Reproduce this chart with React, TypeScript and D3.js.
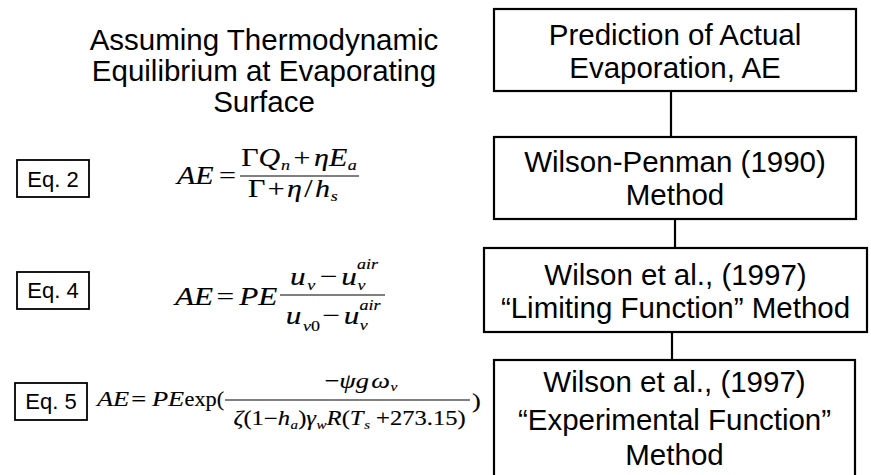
import * as d3 from "d3";

const titleLines = ["Assuming Thermodynamic", "Equilibrium at Evaporating", "Surface"];
const methodLines = [
  ["Prediction of Actual", "Evaporation, AE"],
  ["Wilson-Penman (1990)", "Method"],
  ["Wilson et al., (1997)", "\u201CLimiting Function\u201D Method"],
  ["Wilson et al., (1997)", "\u201CExperimental Function\u201D", "Method"],
];
const eqLabels = ["Eq. 2", "Eq. 4", "Eq. 5"];

// layout of the flow boxes (pixels)
const boxLayout = [
  { x0: 494, x1: 856, y0: 9, y1: 91, base: [45, 78] },
  { x0: 494, x1: 856, y0: 137, y1: 219, base: [172, 205] },
  { x0: 484, x1: 867, y0: 248, y1: 332, base: [285, 318] },
  { x0: 494, x1: 855, y0: 360, y1: 490, base: [392, 430, 465] },
];
const connectorX = [671, 675, 672];
const eqBoxLayout = [
  { x0: 17, x1: 89, y0: 160, y1: 197, base: 187 },
  { x0: 17, x1: 89, y0: 272, y1: 309, base: 298 },
  { x0: 15, x1: 87, y0: 383, y1: 420, base: 409 },
];

const SANS = "'Liberation Sans', Arial, sans-serif";
const SERIF = "'Liberation Serif', 'Times New Roman', serif";

const line = d3.line<[number, number]>();

// equations were pasted slightly stretched; x in local units, scaled by sx
function Stretched({ ox, sx, children }: { ox: number; sx: number; children: any }) {
  return (
    <g
      transform={`translate(${ox},0) scale(${sx},1)`}
      fontFamily={SERIF}
      fill="#000"
      stroke="#000"
      strokeWidth={0.15}
    >
      {children}
    </g>
  );
}

function Bar({ x0, x1, y }: { x0: number; x1: number; y: number }) {
  return <path d={line([[x0, y], [x1, y]]) ?? ""} stroke="#000" strokeWidth={1.1} />;
}

export default function App() {
  const width = 871;
  const height = 475;

  return (
    <svg
      width={width}
      height={height}
      style={{ position: "absolute", left: 0, top: 0, background: "#fff" }}
    >
      {/* left title */}
      <text fontFamily={SANS} fontSize={29.5} textAnchor="middle" fill="#000">
        {titleLines.map((t, i) => (
          <tspan key={t} x={264} y={50 + i * 31}>
            {t}
          </tspan>
        ))}
      </text>

      {/* flow boxes */}
      {methodLines.map((lines, i) => {
        const b = boxLayout[i];
        const cx = (b.x0 + b.x1) / 2;
        return (
          <g key={i}>
            <rect x={b.x0} y={b.y0} width={b.x1 - b.x0} height={b.y1 - b.y0} fill="none" stroke="#000" strokeWidth={2.2} />
            {lines.map((t, j) => (
              <text key={j} x={cx} y={b.base[j]} fontFamily={SANS} fontSize={29.5} textAnchor="middle" fill="#000">
                {t}
              </text>
            ))}
          </g>
        );
      })}
      {connectorX.map((x, i) => (
        <path
          key={i}
          d={line([
            [x, boxLayout[i].y1],
            [x, boxLayout[i + 1].y0],
          ]) ?? ""}
          stroke="#000"
          strokeWidth={2.2}
        />
      ))}

      {/* equation labels */}
      {eqLabels.map((t, i) => {
        const b = eqBoxLayout[i];
        return (
          <g key={t}>
            <rect x={b.x0} y={b.y0} width={b.x1 - b.x0} height={b.y1 - b.y0} fill="none" stroke="#000" strokeWidth={1.8} />
            <text x={(b.x0 + b.x1) / 2} y={b.base} fontFamily={SANS} fontSize={22} textAnchor="middle" fill="#000">
              {t}
            </text>
          </g>
        );
      })}

      {/* Eq. 2 */}
      <Stretched ox={177} sx={1.2}>
        <text x={0} y={184} fontSize={25} fontStyle="italic">AE</text>
        <text x={35} y={184} fontSize={25}>=</text>
        <Bar x0={52.5} x1={151.7} y={176} />
        <text x={101.7} y={166} fontSize={25} textAnchor="middle">
          <tspan>Γ</tspan>
          <tspan fontStyle="italic">Q</tspan>
          <tspan fontStyle="italic" fontSize={15} dx={0.5} dy={4}>n</tspan>
          <tspan dx={3} dy={-4}>+</tspan>
          <tspan dx={3} fontStyle="italic">ηE</tspan>
          <tspan fontStyle="italic" fontSize={15} dx={0.5} dy={4}>a</tspan>
        </text>
        <text x={96.5} y={197} fontSize={25} textAnchor="middle">
          <tspan>Γ</tspan>
          <tspan dx={2}>+</tspan>
          <tspan dx={2} fontStyle="italic">η</tspan>
          <tspan dx={2}>/</tspan>
          <tspan dx={2} fontStyle="italic">h</tspan>
          <tspan fontStyle="italic" fontSize={15} dx={0.5} dy={4}>s</tspan>
        </text>
      </Stretched>

      {/* Eq. 4 */}
      <Stretched ox={175} sx={1.2}>
        <text x={0} y={305} fontSize={26} fontStyle="italic">AE</text>
        <text x={34.5} y={305} fontSize={26}>=</text>
        <text x={53.5} y={305} fontSize={26} fontStyle="italic">PE</text>
        <Bar x0={87.5} x1={175} y={295} />
        <text x={132.5} y={285} fontSize={26} fontStyle="italic" textAnchor="middle">
          <tspan>u</tspan>
          <tspan fontSize={15} dx={1.5} dy={5}>v</tspan>
          <tspan fontStyle="normal" dx={4} dy={-5}>−</tspan>
          <tspan dx={3}>u</tspan>
          <tspan fontSize={15} dx={0.5} dy={5}>v</tspan>
          <tspan fontSize={15} dx={-7} dy={-21}>air</tspan>
        </text>
        <text x={131.7} y={324} fontSize={26} fontStyle="italic" textAnchor="middle">
          <tspan>u</tspan>
          <tspan fontSize={15} dx={1.5} dy={7}>v</tspan>
          <tspan fontSize={15} fontStyle="normal">0</tspan>
          <tspan fontStyle="normal" dx={2} dy={-7}>−</tspan>
          <tspan dx={3}>u</tspan>
          <tspan fontSize={15} dx={0.5} dy={6}>v</tspan>
          <tspan fontSize={15} dx={-7} dy={-20}>air</tspan>
        </text>
      </Stretched>

      {/* Eq. 5 */}
      <Stretched ox={97} sx={1.2}>
        <text x={0} y={406} fontSize={22} fontStyle="italic">AE</text>
        <text x={28.5} y={406} fontSize={22}>=</text>
        <text x={45.8} y={406} fontSize={22} fontStyle="italic">PE</text>
        <text x={73} y={406} fontSize={22} textLength={33} lengthAdjust="spacingAndGlyphs">exp(</text>
        <Bar x0={106.7} x1={310.8} y={400} />
        <text x={220} y={388} fontSize={22} textAnchor="middle">
          <tspan>−</tspan>
          <tspan fontStyle="italic">ψg</tspan>
          <tspan fontStyle="italic" dx={2}>ω</tspan>
          <tspan fontStyle="italic" fontSize={13} dx={0.5} dy={3}>v</tspan>
        </text>
        <text x={210.5} y={425} fontSize={20.5} textAnchor="middle">
          <tspan fontStyle="italic">ζ</tspan>
          <tspan>(1−</tspan>
          <tspan fontStyle="italic">h</tspan>
          <tspan fontStyle="italic" fontSize={12.5} dx={0.5} dy={4}>a</tspan>
          <tspan dy={-4}>)</tspan>
          <tspan fontStyle="italic">γ</tspan>
          <tspan fontStyle="italic" fontSize={12.5} dx={0.5} dy={4}>w</tspan>
          <tspan fontStyle="italic" dy={-4}>R</tspan>
          <tspan>(</tspan>
          <tspan fontStyle="italic">T</tspan>
          <tspan fontStyle="italic" fontSize={12.5} dx={0.5} dy={4}>s</tspan>
          <tspan dy={-4}> +273.15)</tspan>
        </text>
        <text x={312.5} y={408} fontSize={22}>)</text>
      </Stretched>
    </svg>
  );
}
